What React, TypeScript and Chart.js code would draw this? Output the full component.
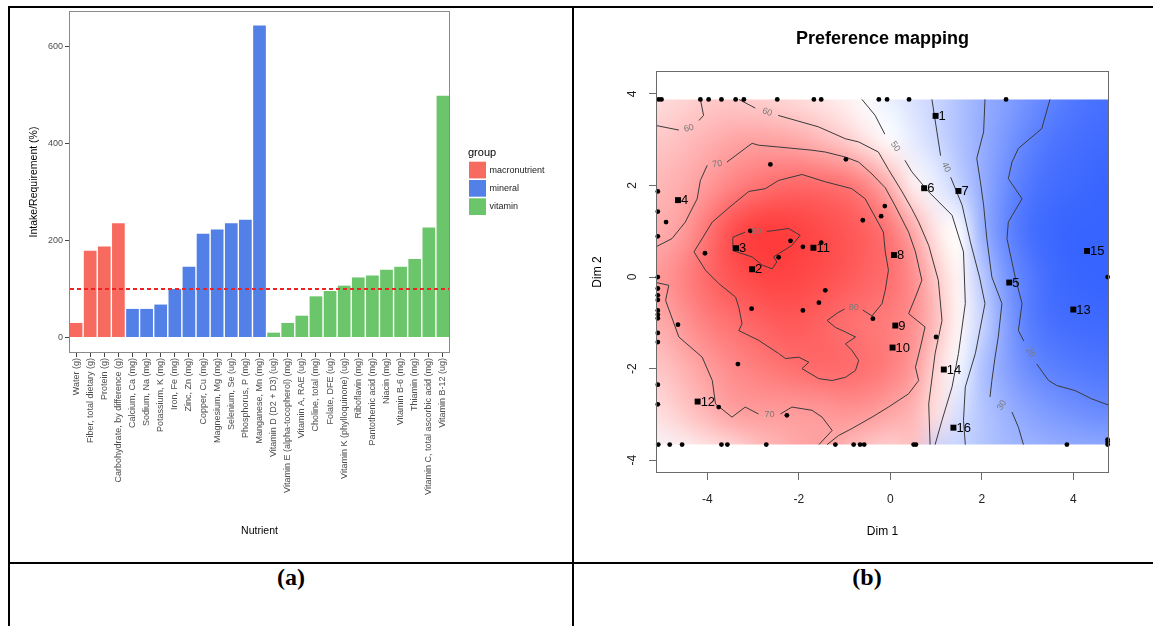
import React, { useEffect, useRef } from "react";
import { Chart, registerables } from "chart.js";

Chart.register(...registerables);

const FONT = '"Liberation Sans", Arial, Helvetica, sans-serif';

// ---------------- Panel (a) data ----------------
const nutrients = [
  "Water (g)", "Fiber, total dietary (g)", "Protein (g)", "Carbohydrate, by difference (g)",
  "Calcium, Ca (mg)", "Sodium, Na (mg)", "Potassium, K (mg)", "Iron, Fe (mg)", "Zinc, Zn (mg)",
  "Copper, Cu (mg)", "Magnesium, Mg (mg)", "Selenium, Se (ug)", "Phosphorus, P (mg)", "Manganese, Mn (mg)",
  "Vitamin D (D2 + D3) (ug)", "Vitamin E (alpha-tocopherol) (mg)", "Vitamin A, RAE (ug)", "Choline, total (mg)",
  "Folate, DFE (ug)", "Vitamin K (phylloquinone) (ug)", "Riboflavin (mg)", "Pantothenic acid (mg)", "Niacin (mg)",
  "Vitamin B-6 (mg)", "Thiamin (mg)", "Vitamin C, total ascorbic acid (mg)", "Vitamin B-12 (ug)",
];
const intakePct = [30, 179, 188, 236, 59, 59, 68, 100, 146, 214, 223, 236, 243, 644, 10, 30, 45, 85, 96, 107, 124, 128, 140, 146, 162, 227, 499];
const nutrientGroup = [
  "macronutrient", "macronutrient", "macronutrient", "macronutrient",
  "mineral", "mineral", "mineral", "mineral", "mineral", "mineral", "mineral", "mineral", "mineral", "mineral",
  "vitamin", "vitamin", "vitamin", "vitamin", "vitamin", "vitamin", "vitamin", "vitamin", "vitamin", "vitamin", "vitamin", "vitamin", "vitamin",
];
const groupNames = ["macronutrient", "mineral", "vitamin"];
const groupColors = ["#F66A60", "#5280E6", "#6BC56A"];
const intakeTicks = [0, 200, 400, 600];
const requirementLevel = 100;

// ---------------- Panel (b) data ----------------
const dimTicks = [-4, -2, 0, 2, 4];
const dim1Range = [-5.12, 4.78];
const dim2Range = [-4.28, 4.5];
const fieldXRange = [-5.12, 4.78];
const fieldYRange = [-3.66, 3.88];

const heatX = [-5, -4.5, -4, -3.5, -3, -2.5, -2, -1.5, -1, -0.5, 0, 0.5, 1, 1.5, 2, 2.5, 3, 3.5, 4, 4.5, 5];
const heatY = [4, 3, 2, 1, 0, -1, -2, -3, -4];
const heatRowP4 = [57, 58.5, 60.3, 60.5, 59.5, 58, 56.5, 54.5, 52.5, 49.2, 45.5, 42.5, 39.5, 35, 30.5, 27, 23.5, 20, 17, 15.5, 15];
const heatRowP3 = [61.5, 63.5, 66, 68, 69, 68.5, 67, 64, 60.3, 55, 49.7, 45, 40.5, 35, 30, 25, 20, 16.5, 15, 14, 13.5];
const heatRowP2 = [65, 67.5, 71, 75, 78, 80.3, 81.5, 81, 79.5, 75, 66, 53, 46, 38.5, 30, 22.5, 17, 14.5, 13.5, 12.5, 12];
const heatRowP1 = [67, 71, 78.5, 86, 90, 90.5, 89, 87, 85, 82.5, 78, 68, 55, 50, 31, 21, 15, 13, 12, 11.5, 11];
const heatRow0 = [71.5, 76, 81, 85, 87.5, 88.5, 88, 86.5, 84.5, 82, 79.5, 73.5, 61.5, 52, 37, 25, 18, 14, 12.5, 11.5, 11];
const heatRowM1 = [67.5, 72, 76.5, 79, 81.5, 83.5, 84, 82, 79.5, 78, 76.5, 73, 63.5, 52, 40, 27.5, 18.5, 15, 14, 13.5, 13];
const heatRowM2 = [62, 66, 70, 73.5, 76, 78, 79.7, 81, 80.7, 79, 76.5, 71, 58.5, 48, 35, 27.5, 22, 19, 17.5, 16.5, 16];
const heatRowM3 = [57, 61, 65, 69, 70, 70, 70, 70.3, 71.5, 71, 68, 65, 56.5, 42, 36, 31.5, 28, 25.5, 23.5, 22, 21.5];
const heatRowM4 = [48, 49, 53, 54.5, 60, 64, 68, 69.5, 64, 59, 57.5, 62, 37.5, 39, 36, 33, 32.5, 31.5, 31, 31, 30.5];
const heatRows = [heatRowP4, heatRowP3, heatRowP2, heatRowP1, heatRow0, heatRowM1, heatRowM2, heatRowM3, heatRowM4];

type P = [number, number] | null;
const contour90: P[] = [[-3.44, 0.87], [-3.17, 0.98], null, [-2.7, 1.0], [-2.58, 1.01], [-2.22, 1.06], [-1.97, 0.91], [-2.15, 0.69], [-2.44, 0.51], [-2.55, 0.44], [-2.48, 0.33], [-2.58, 0.18], [-2.8, 0.26], [-3.02, 0.44], [-3.24, 0.51], [-3.44, 0.58], [-3.44, 0.87]];
const contour80: P[] = [[-4.29, 0.55], [-3.89, 1.2], [-3.46, 1.57], [-3.09, 1.87], [-2.73, 1.93], [-2.44, 2.11], [-1.93, 2.24], [-1.42, 2.08], [-0.84, 1.93], [-0.55, 1.71], [-0.33, 1.31], [-0.15, 0.98], [-0.11, 0.55], [-0.04, 0.15], [-0.11, -0.29], [-0.18, -0.58], [-0.4, -0.85], [-0.6, -0.72], null, [-1.0, -0.7], [-1.15, -0.78], [-1.38, -0.95], [-1.2, -1.1], [-0.98, -1.2], [-0.76, -1.31], [-0.98, -1.46], [-0.84, -1.6], [-0.69, -1.82], [-0.76, -2.04], [-0.98, -2.19], [-1.27, -2.26], [-1.56, -2.22], [-1.93, -2.0], [-1.78, -1.86], [-2.0, -1.75], [-2.29, -1.78], [-2.44, -1.67], [-2.88, -1.38], [-3.31, -1.17], [-3.24, -1.02], [-3.31, -0.66], [-3.38, -0.44], [-3.75, -0.14], [-4.04, 0.15], [-4.29, 0.55]];
const contour70a: P[] = [[-5.12, 0.66], [-4.77, 0.84], [-4.48, 1.2], [-4.22, 1.71], [-4.15, 2.11], [-4.0, 2.44], null, [-3.57, 2.51], [-3.17, 2.81], [-3.02, 2.92], [-2.88, 2.88], [-2.44, 2.84], [-1.71, 2.77], [-1.42, 2.73], [-0.98, 2.62], [-0.69, 2.51], [-0.4, 2.25], [-0.11, 1.95], [0.11, 1.55], [0.4, 0.98], [0.55, 0.55], [0.69, -0.07], [0.55, -0.44], [0.4, -0.8], [0.76, -1.09], [0.66, -1.53], [0.55, -1.97], [0.62, -2.26], [0.4, -2.55], [-0.04, -2.84], [-0.4, -3.06], [-0.84, -3.31], [-1.13, -3.46], [-1.38, -3.66]];
const contour70b: P[] = [[-5.12, -0.12], [-4.84, -0.18], [-4.91, -0.51], [-4.62, -1.31], [-4.11, -1.75], [-3.89, -2.26], [-3.82, -2.77], [-3.46, -3.06], [-3.17, -2.84], [-2.88, -2.99], null, [-2.4, -2.99], [-2.15, -2.84], [-1.71, -2.91], [-1.49, -3.06], [-1.27, -3.35], [-1.56, -3.66]];
const contour60a: P[] = [[-3.31, 3.88], [-2.95, 3.69], null, [-2.45, 3.53], [-1.57, 3.28], [-0.98, 3.02], [-0.69, 2.95], [-0.26, 2.73], [-0.04, 2.35], [0.26, 1.86], [0.47, 1.49], [0.62, 1.2], [0.84, 0.69], [1.05, -0.07], [1.13, -0.95], [0.98, -1.67], [0.84, -2.77], [0.87, -3.66]];
const contour60b: P[] = [[-5.12, 3.31], [-4.62, 3.21], null, [-4.18, 3.42], [-4.08, 3.53], [-4.15, 3.88]];
const contour50: P[] = [[-0.62, 3.88], [-0.33, 3.53], [-0.12, 3.12], null, [0.32, 2.55], [0.47, 2.3], [0.84, 1.86], [1.35, 1.35], [1.6, 0.55], [1.62, 0.0], [1.64, -0.58], [1.49, -1.67], [1.35, -2.4], [1.13, -3.13], [0.98, -3.66]];
const contour40: P[] = [[0.91, 3.88], [1.02, 3.17], [1.1, 2.65], null, [1.32, 2.18], [1.57, 1.57], [1.75, 0.77], [1.95, 0.0], [2.07, -0.58], [1.86, -1.67], [1.64, -2.4], [1.6, -3.13], [1.64, -3.66]];
const contour30: P[] = [[2.07, 3.88], [2.04, 3.17], [1.89, 2.59], [1.97, 2.08], [2.04, 1.57], [2.11, 0.84], [2.22, 0.0], [2.44, -0.58], [2.36, -1.31], [2.29, -1.75], [2.22, -2.26], [2.18, -2.62], null, [2.66, -2.95], [2.8, -3.28], [2.91, -3.66]];
const contour20: P[] = [[3.49, 3.88], [3.31, 3.24], [2.8, 2.81], [2.66, 2.51], [2.58, 2.15], [2.88, 1.71], [2.58, 1.2], [2.55, 0.84], [2.73, 0.0], [2.88, -0.58], [2.8, -1.17], [2.92, -1.4], null, [3.2, -1.9], [3.46, -2.26], [3.64, -2.37], [4.04, -2.48], [4.4, -2.66], [4.78, -2.8]];
const contours = [contour90, contour80, contour70a, contour70b, contour60a, contour60b, contour50, contour40, contour30, contour20];

const contourLabelText = ["90", "80", "70", "70", "60", "60", "50", "40", "30", "20"];
const contourLabelX = [-2.93, -0.8, -3.78, -2.64, -2.69, -4.4, 0.11, 1.22, 2.44, 3.06];
const contourLabelY = [0.99, -0.66, 2.47, -3.0, 3.6, 3.25, 2.85, 2.4, -2.8, -1.65];
const contourLabelAngle = [0, 0, -10, 0, 20, -15, 55, 65, -60, 60];

const consumerX = [-5.06, -5.0, -4.15, -3.97, -3.69, -3.38, -3.2, -2.47, -1.67, -1.51, -0.25, -0.07, 0.41, 2.53,
  -5.07, -4.82, -4.55, -3.69, -3.56, -2.71, -1.2, -0.8, -0.66, -0.57, 0.51, 0.56, 3.86, 4.75, 4.75, 4.75, 4.75,
  -5.08, -5.08, -5.08, -5.08, -5.08, -5.08, -5.08, -5.08, -5.08, -5.08, -5.08, -5.08, -5.08, -5.08,
  -2.62, -0.97, -0.12, -0.2, -0.6, -4.9, -3.06, -2.18, -1.91, -1.51, -4.05, -2.44, -1.42, -1.56, -1.91, -3.03, -4.64, -0.38, -3.33, -3.75, -2.26, 1.0];
const consumerY = [3.88, 3.88, 3.88, 3.88, 3.88, 3.88, 3.88, 3.88, 3.88, 3.88, 3.88, 3.88, 3.88, 3.88,
  -3.66, -3.66, -3.66, -3.66, -3.66, -3.66, -3.66, -3.66, -3.66, -3.66, -3.66, -3.66, -3.66, -3.66, -3.55, -3.6, 0.0,
  1.87, 1.43, 0.89, 0.0, -0.25, -0.4, -0.5, -0.73, -0.82, -0.9, -1.22, -1.42, -2.35, -2.78,
  2.46, 2.57, 1.55, 1.33, 1.24, 1.2, 1.01, 0.79, 0.66, 0.75, 0.52, 0.43, -0.29, -0.56, -0.73, -0.69, -1.04, -0.91, -1.9, -2.84, -3.02, -1.31];

const productLabels = ["1", "2", "3", "4", "5", "6", "7", "8", "9", "10", "11", "12", "13", "14", "15", "16"];
const productX = [0.99, -3.02, -3.37, -4.64, 2.6, 0.74, 1.49, 0.08, 0.11, 0.05, -1.68, -4.21, 4.0, 1.17, 4.3, 1.38];
const productY = [3.52, 0.17, 0.63, 1.68, -0.12, 1.94, 1.88, 0.48, -1.06, -1.54, 0.64, -2.72, -0.71, -2.02, 0.57, -3.29];

// ---------------- helpers ----------------
function heatColor(v: number): [number, number, number] {
  if (v >= 50) {
    const t = Math.min(1, (v - 50) / 42);
    const c = Math.round(255 - 205 * t);
    return [255, c, c];
  }
  const t = Math.min(1, (50 - v) / 38);
  return [Math.round(255 - 200 * t), Math.round(255 - 155 * t), 255];
}

const panelAPlugin = {
  id: "panelA",
  afterDatasetsDraw(chart: any) {
    const { ctx, chartArea: a, scales } = chart;
    const py = scales.y.getPixelForValue(requirementLevel);
    ctx.save();
    ctx.fillStyle = "rgb(238, 36, 36)";
    for (let xx = a.left + 1; xx < a.right - 1; xx += 7) {
      ctx.fillRect(Math.round(xx), Math.round(py) - 1, Math.min(4, a.right - 1 - xx), 2);
    }
    ctx.restore();
  },
  afterDraw(chart: any) {
    const { ctx, chartArea: a } = chart;
    ctx.save();
    ctx.strokeStyle = "#8a8a8a";
    ctx.lineWidth = 1;
    ctx.strokeRect(Math.round(a.left) + 0.5, Math.round(a.top) + 0.5, Math.round(a.right - a.left) - 1, Math.round(a.bottom - a.top) - 1);
    ctx.fillStyle = "#000";
    ctx.font = `10.5px ${FONT}`;
    ctx.textAlign = "center";
    ctx.textBaseline = "middle";
    ctx.fillText("Nutrient", (a.left + a.right) / 2, 523);
    ctx.save();
    ctx.translate(24, (a.top + a.bottom) / 2);
    ctx.rotate(-Math.PI / 2);
    ctx.fillText("Intake/Requirement (%)", 0, 0);
    ctx.restore();
    // legend
    ctx.textAlign = "left";
    ctx.font = `11px ${FONT}`;
    ctx.fillText("group", 458, 145);
    ctx.font = `9px ${FONT}`;
    groupNames.forEach((g, i) => {
      const y0 = 153.7 + i * 18.3;
      ctx.fillStyle = groupColors[i];
      ctx.fillRect(459, y0, 17, 16.7);
      ctx.fillStyle = "#1a1a1a";
      ctx.fillText(g, 479.5, y0 + 8.5);
    });
    ctx.restore();
  },
};

const panelBPlugin = {
  id: "panelB",
  beforeDatasetsDraw(chart: any) {
    const { ctx, scales } = chart;
    const x = scales.x, y = scales.y;
    const nx = heatX.length, ny = heatY.length;
    const off = document.createElement("canvas");
    off.width = nx;
    off.height = ny;
    const octx = off.getContext("2d")!;
    const img = octx.createImageData(nx, ny);
    heatRows.forEach((row, j) =>
      row.forEach((v, i) => {
        const [r, g, b] = heatColor(v);
        const k = (j * nx + i) * 4;
        img.data[k] = r;
        img.data[k + 1] = g;
        img.data[k + 2] = b;
        img.data[k + 3] = 255;
      })
    );
    octx.putImageData(img, 0, 0);
    const dx = heatX[1] - heatX[0];
    const dy = heatY[0] - heatY[1];
    const left = x.getPixelForValue(heatX[0] - dx / 2);
    const right = x.getPixelForValue(heatX[nx - 1] + dx / 2);
    const top = y.getPixelForValue(heatY[0] + dy / 2);
    const bottom = y.getPixelForValue(heatY[ny - 1] - dy / 2);
    const cl = x.getPixelForValue(fieldXRange[0]);
    const cr = x.getPixelForValue(fieldXRange[1]);
    const ct = y.getPixelForValue(fieldYRange[1]);
    const cb = y.getPixelForValue(fieldYRange[0]);
    ctx.save();
    ctx.beginPath();
    ctx.rect(cl, ct, cr - cl, cb - ct);
    ctx.clip();
    ctx.imageSmoothingEnabled = true;
    (ctx as any).imageSmoothingQuality = "high";
    ctx.drawImage(off, left, top, right - left, bottom - top);
    ctx.restore();
  },
  afterDatasetsDraw(chart: any) {
    const { ctx, scales } = chart;
    const x = scales.x, y = scales.y;
    ctx.save();
    ctx.font = `9px ${FONT}`;
    ctx.fillStyle = "#7a7a7a";
    ctx.textAlign = "center";
    ctx.textBaseline = "middle";
    contourLabelText.forEach((t, i) => {
      ctx.save();
      ctx.translate(x.getPixelForValue(contourLabelX[i]), y.getPixelForValue(contourLabelY[i]));
      ctx.rotate((contourLabelAngle[i] * Math.PI) / 180);
      ctx.fillText(t, 0, 0);
      ctx.restore();
    });
    ctx.font = `13px ${FONT}`;
    ctx.fillStyle = "#000";
    ctx.textAlign = "left";
    productLabels.forEach((t, i) => {
      ctx.fillText(t, x.getPixelForValue(productX[i]) + 3, y.getPixelForValue(productY[i]) + 0.5);
    });
    ctx.restore();
  },
  afterDraw(chart: any) {
    const { ctx, chartArea: a, scales } = chart;
    const y = scales.y;
    ctx.save();
    ctx.strokeStyle = "#6a6a6a";
    ctx.lineWidth = 1;
    ctx.strokeRect(Math.round(a.left) + 0.5, Math.round(a.top) + 0.5, Math.round(a.right - a.left) - 1, Math.round(a.bottom - a.top) - 1);
    ctx.fillStyle = "#000";
    ctx.textAlign = "center";
    ctx.textBaseline = "middle";
    ctx.font = `bold 18px ${FONT}`;
    ctx.fillText("Preference mapping", (a.left + a.right) / 2, 31);
    ctx.font = `12px ${FONT}`;
    ctx.fillText("Dim 1", (a.left + a.right) / 2, 524);
    ctx.save();
    ctx.translate(23, (a.top + a.bottom) / 2);
    ctx.rotate(-Math.PI / 2);
    ctx.fillText("Dim 2", 0, 0);
    ctx.restore();
    ctx.fillStyle = "#222";
    dimTicks.forEach((v) => {
      ctx.save();
      ctx.translate(a.left - 23.5, y.getPixelForValue(v));
      ctx.rotate(-Math.PI / 2);
      ctx.fillText(String(v), 0, 0);
      ctx.restore();
    });
    ctx.restore();
  },
};

export default function App() {
  const refA = useRef<HTMLCanvasElement>(null);
  const refB = useRef<HTMLCanvasElement>(null);

  useEffect(() => {
    const chartA = new Chart(refA.current as HTMLCanvasElement, {
      type: "bar",
      data: {
        labels: nutrients,
        datasets: [
          {
            data: intakePct,
            backgroundColor: nutrientGroup.map((g) => groupColors[groupNames.indexOf(g)]),
            borderWidth: 0,
            barPercentage: 0.9,
            categoryPercentage: 1,
          },
        ],
      },
      options: {
        animation: false,
        responsive: false,
        events: [],
        layout: { padding: { top: 3, right: 122, left: 0, bottom: 0 } },
        plugins: { legend: { display: false }, tooltip: { enabled: false } },
        scales: {
          x: {
            offset: true,
            grid: { display: true, drawOnChartArea: false, offset: false, tickLength: 4, color: "#444" },
            border: { display: false },
            ticks: { autoSkip: false, maxRotation: 90, minRotation: 90, padding: 1, color: "#4d4d4d", font: { family: FONT, size: 9 } },
            afterFit: (s: any) => { s.height = 209; s.paddingLeft = 0; s.paddingRight = 0; },
          },
          y: {
            min: -32,
            max: 674,
            afterBuildTicks: (s: any) => { s.ticks = intakeTicks.map((v) => ({ value: v })); },
            grid: { display: true, drawOnChartArea: false, tickLength: 4, color: "#444" },
            border: { display: false },
            ticks: { padding: 2, color: "#4d4d4d", font: { family: FONT, size: 9 } },
            afterFit: (s: any) => { s.width = 59; s.paddingTop = 0; s.paddingBottom = 0; },
          },
        },
      } as any,
      plugins: [panelAPlugin],
    });

    const toPts = (arr: P[]) => arr.map((p) => (p ? { x: p[0], y: p[1] } : { x: null, y: null }));

    const chartB = new Chart(refB.current as HTMLCanvasElement, {
      type: "scatter",
      data: {
        datasets: [
          {
            data: productX.map((v, i) => ({ x: v, y: productY[i] })),
            pointStyle: "rect",
            pointRadius: 4.2,
            backgroundColor: "#000",
            borderColor: "#000",
            borderWidth: 0,
            clip: false,
          },
          {
            data: consumerX.map((v, i) => ({ x: v, y: consumerY[i] })),
            pointStyle: "circle",
            pointRadius: 2.4,
            backgroundColor: "#000",
            borderColor: "#000",
            borderWidth: 0,
            clip: false,
          },
          ...contours.map((c) => ({
            data: toPts(c),
            showLine: true,
            spanGaps: false,
            pointRadius: 0,
            borderColor: "#3a3a3a",
            borderWidth: 1,
            tension: 0,
          })),
        ],
      },
      options: {
        animation: false,
        responsive: false,
        events: [],
        layout: { padding: { top: 63, right: 44, left: 0, bottom: 0 } },
        plugins: { legend: { display: false }, tooltip: { enabled: false } },
        scales: {
          x: {
            type: "linear",
            min: dim1Range[0],
            max: dim1Range[1],
            afterBuildTicks: (s: any) => { s.ticks = dimTicks.map((v) => ({ value: v })); },
            grid: { display: true, drawOnChartArea: false, tickLength: 7, color: "#6a6a6a" },
            border: { display: false },
            ticks: { padding: 12, color: "#222", font: { family: FONT, size: 12 } },
            afterFit: (s: any) => { s.height = 89; s.paddingLeft = 0; s.paddingRight = 0; },
          },
          y: {
            type: "linear",
            min: dim2Range[0],
            max: dim2Range[1],
            afterBuildTicks: (s: any) => { s.ticks = dimTicks.map((v) => ({ value: v })); },
            grid: { display: true, drawOnChartArea: false, tickLength: 7, color: "#6a6a6a" },
            border: { display: false },
            ticks: { padding: 4, color: "rgba(0,0,0,0)", font: { family: FONT, size: 12 } },
            afterFit: (s: any) => { s.width = 81; s.paddingTop = 0; s.paddingBottom = 0; },
          },
        },
      } as any,
      plugins: [panelBPlugin],
    });

    return () => {
      chartA.destroy();
      chartB.destroy();
    };
  }, []);

  const line = (l: number, t: number, w: number, h: number) => (
    <div style={{ position: "absolute", left: l, top: t, width: w, height: h, background: "#000" }} />
  );
  const cap: React.CSSProperties = {
    position: "absolute",
    top: 564,
    height: 31,
    lineHeight: "31px",
    textAlign: "center",
    font: 'bold 24px "Liberation Serif", "Times New Roman", serif',
    color: "#000",
  };

  return (
    <div style={{ position: "fixed", left: 0, top: 0, width: 1153, height: 626, background: "#fff", overflow: "hidden" }}>
      <canvas ref={refA} width={562} height={554} style={{ position: "absolute", left: 10, top: 8, width: 562, height: 554 }} />
      <canvas ref={refB} width={578} height={554} style={{ position: "absolute", left: 575, top: 8, width: 578, height: 554 }} />
      {line(8, 6, 1145, 2)}
      {line(8, 6, 2, 620)}
      {line(572, 6, 2, 620)}
      {line(8, 562, 1145, 2)}
      <div style={{ ...cap, left: 10, width: 562 }}>(a)</div>
      <div style={{ ...cap, left: 574, width: 586 }}>(b)</div>
    </div>
  );
}
